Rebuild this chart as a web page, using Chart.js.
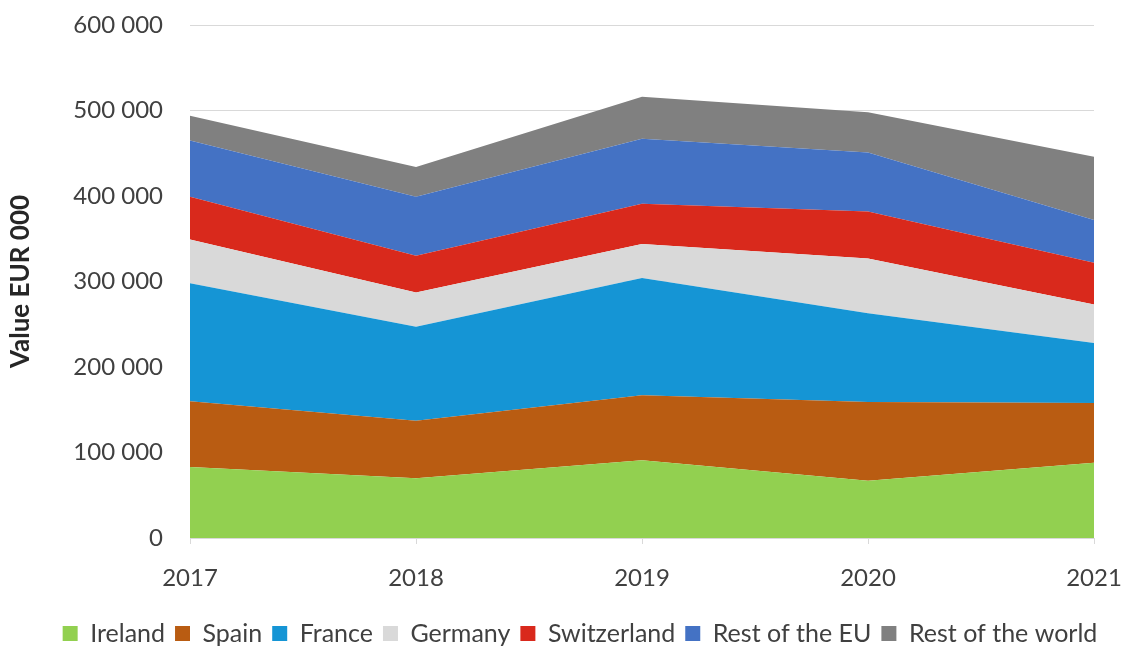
<!DOCTYPE html>
<html>
<head>
<meta charset="utf-8">
<script src="https://cdn.jsdelivr.net/npm/chart.js@4.4.1/dist/chart.umd.min.js"></script>
<style>
  html, body { margin: 0; padding: 0; background: #ffffff; }
  #wrap { width: 1124px; height: 646px; }
</style>
</head>
<body>
<div id="wrap"><canvas id="chart"></canvas></div>
<script>
// export value by destination, EUR 000
var years = ["2017", "2018", "2019", "2020", "2021"];
var ireland = [83000, 70000, 91000, 67000, 88000];
var spain = [77000, 67000, 76000, 92000, 70000];
var france = [138000, 110000, 137000, 104000, 70000];
var germany = [51000, 40000, 40000, 64000, 45000];
var switzerland = [50000, 43000, 47000, 55000, 49000];
var restEU = [66000, 69000, 76000, 69000, 50000];
var restWorld = [29000, 35000, 49000, 47000, 74000];
var yTicks = [0, 100000, 200000, 300000, 400000, 500000, 600000];

var series = [
    { label: "Ireland", data: ireland, color: "#92d050" },
    { label: "Spain", data: spain, color: "#b95c12" },
    { label: "France", data: france, color: "#1595d5" },
    { label: "Germany", data: germany, color: "#d9d9d9" },
    { label: "Switzerland", data: switzerland, color: "#d9291c" },
    { label: "Rest of the EU", data: restEU, color: "#4472c4" },
    { label: "Rest of the world", data: restWorld, color: "#808080" }
];

var FONT = "Lato, 'Liberation Sans', sans-serif";

new Chart("chart", {
    type: "line",
    data: {
        labels: years,
        datasets: series.map(function (s, i) {
            return {
                label: s.label,
                data: s.data,
                backgroundColor: s.color,
                borderColor: s.color,
                borderWidth: 0,
                pointRadius: 0,
                tension: 0,
                fill: i === 0 ? "origin" : "-1"
            };
        })
    },
    options: {
        responsive: true,
        maintainAspectRatio: false,
        animation: false,
        layout: {
            padding: { top: 25, right: 0, left: 36, bottom: -10 }
        },
        plugins: {
            legend: {
                position: "bottom",
                labels: {
                    color: "#404040",
                    font: { family: FONT, size: 25 },
                    boxWidth: 15,
                    boxHeight: 15,
                    padding: 10
                }
            },
            tooltip: { enabled: false }
        },
        scales: {
            x: {
                offset: false,
                grid: {
                    drawOnChartArea: false,
                    color: "#d9d9d9",
                    tickLength: 6
                },
                border: { color: "#d9d9d9" },
                ticks: {
                    color: "#404040",
                    font: { family: FONT, size: 24 },
                    padding: 20,
                    maxRotation: 0
                },
                afterFit: function (scale) {
                    scale.height = 73;
                    // fixed right margin for the plot, end labels may overhang
                    scale.paddingLeft = 0;
                    scale.paddingRight = 30;
                }
            },
            y: {
                stacked: true,
                min: 0,
                max: 600000,
                afterBuildTicks: function (scale) {
                    scale.ticks = yTicks.map(function (v) { return { value: v }; });
                },
                afterFit: function (scale) {
                    scale.width = 154;
                    scale.paddingTop = 0;
                    scale.paddingBottom = 0;
                },
                grid: {
                    color: "#d9d9d9",
                    drawTicks: false
                },
                border: { display: false },
                ticks: {
                    color: "#404040",
                    font: { family: FONT, size: 24 },
                    padding: 27,
                    callback: function (v) {
                        return v.toLocaleString("en-US").replace(/,/g, " ");
                    }
                },
                title: {
                    display: true,
                    text: "Value EUR 000",
                    color: "#262626",
                    font: { family: FONT, size: 26, weight: "bold" },
                    padding: { top: -31, bottom: 0 }
                }
            }
        }
    }
});
</script>
</body>
</html>
